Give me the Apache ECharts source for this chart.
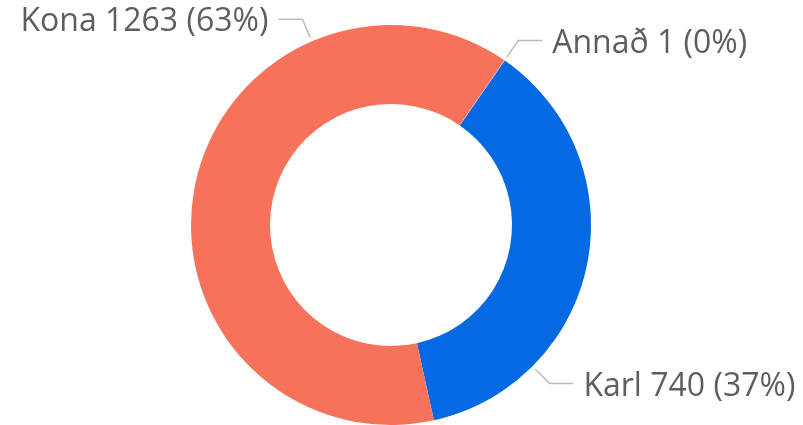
<!DOCTYPE html>
<html>
<head>
<meta charset="utf-8">
<script src="https://cdn.jsdelivr.net/npm/echarts@6/dist/echarts.min.js"></script>
<style>
  html, body { margin: 0; padding: 0; background: #fff; }
  #chart { width: 803px; height: 425px; }
</style>
</head>
<body>
<div id="chart"></div>
<script>
const categories = ['Annað', 'Karl', 'Kona'];
const values = [1, 740, 1263];
const colors = ['#d9d9d9', '#0569e1', '#f6725a'];
// where each label line leaves the ring (degrees clockwise from 12 o'clock)
const labelAngles = [34.6, 135, 336.7];

const cx = 391, cy = 225, rOuter = 200, rInner = 121;
const len1 = 20, len2 = 24, gap = 10;

const chart = echarts.init(document.getElementById('chart'));
chart.setOption({
  animation: false,
  series: [{
    type: 'pie',
    center: [cx, cy],
    radius: [rInner, rOuter],
    startAngle: 55.5,
    clockwise: true,
    avoidLabelOverlap: false,
    percentPrecision: 0,
    data: categories.map((name, i) => ({
      name,
      value: values[i],
      itemStyle: { color: colors[i] }
    })),
    label: {
      show: true,
      formatter: '{b} {c} ({d}%)',
      color: '#605e5c',
      fontSize: 32,
      fontFamily: 'Open Sans'
    },
    labelLine: {
      show: true,
      lineStyle: { color: '#bcbcbc', width: 1.5 }
    },
    emphasis: { disabled: true },
    labelLayout(params) {
      const a = labelAngles[params.dataIndex] * Math.PI / 180;
      const sx = Math.sin(a), sy = -Math.cos(a);
      const p0 = [cx + (rOuter + 4) * sx, cy + (rOuter + 4) * sy];
      const p1 = [p0[0] + len1 * sx, p0[1] + len1 * sy];
      const dir = sx >= 0 ? 1 : -1;
      const p2 = [p1[0] + dir * len2, p1[1]];
      return {
        x: p2[0] + dir * gap,
        y: p2[1] + 3,
        align: dir > 0 ? 'left' : 'right',
        verticalAlign: 'middle',
        labelLinePoints: [p0, p1, p2]
      };
    }
  }]
});
</script>
</body>
</html>
